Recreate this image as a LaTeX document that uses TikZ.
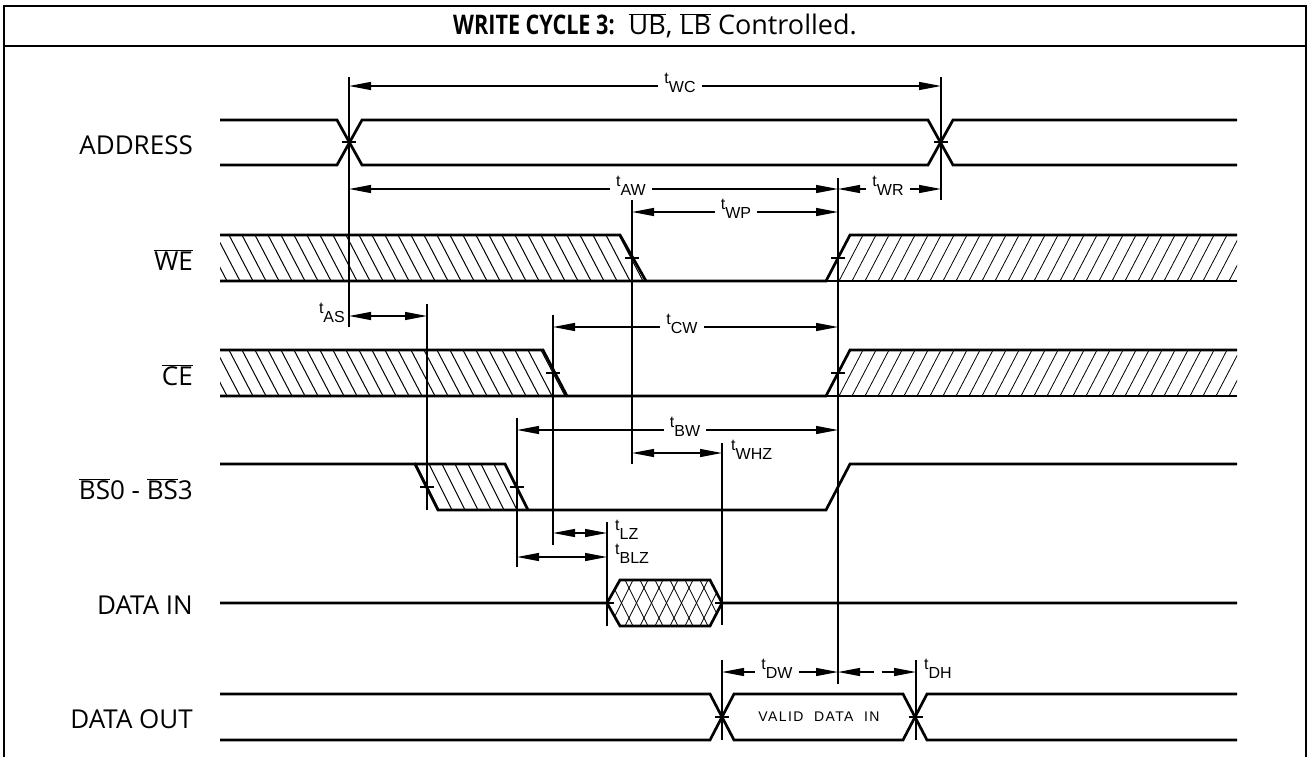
\documentclass[tikz,border=0pt]{standalone}
\usepackage{fontspec}
\setmainfont{Open Sans}
\newfontfamily\tfont{Liberation Sans}
\usetikzlibrary{arrows.meta}
\newcommand{\ovl}[1]{$\overline{\mbox{#1}}$}
\newcommand{\tlab}[1]{{\tfont\fontsize{16}{16}\selectfont t\raisebox{-9pt}{#1}}}
\tikzset{
  sig/.style={line width=2.7pt},
  refl/.style={line width=1.8pt},
  thinref/.style={line width=1.1pt},
  tk/.style={line width=1.3pt},
  hatchl/.style={line width=1pt},
  hatchr/.style={line width=0.8pt},
  frame/.style={line width=2pt},
  dim/.style={line width=1.2pt,{Triangle[length=22pt,width=8pt]}-{Triangle[length=22pt,width=8pt]}},
  gap/.style={fill=white,inner xsep=6pt,inner ysep=1pt},
  tl/.style={inner sep=0pt},
  siglab/.style={anchor=east,inner sep=0pt,font=\fontsize{26}{26}\selectfont}
}
\begin{document}
\begin{tikzpicture}[x=1pt,y=-1pt]
\useasboundingbox (0,0) rectangle (1308,757);
% frame
\draw[frame] (4,757) -- (4,6) -- (1306,6) -- (1306,757);
\draw[frame] (4,46) -- (1306,46);
\node (title) at (655,26) {\fontsize{27}{27}\selectfont\scalebox{0.8}[1]{\bfseries WRITE CYCLE 3:}\ \ \ovl{UB}, \ovl{LB} Controlled.};

% signal labels
\node[siglab] (lA) at (193,145) {ADDRESS};
\node[siglab] (lW) at (193,260) {\ovl{WE}};
\node[siglab] (lC) at (193,375) {\ovl{CE}};
\node[siglab] (lB) at (193,489) {\ovl{BS}0 - \ovl{BS}3};
\node[siglab] (lDI) at (193,605) {DATA IN};
\node[siglab] (lDO) at (193,719) {DATA OUT};

% hatching WE
\begin{scope}
\clip (220,235)--(620,235)--(646,281)--(220,281)--cycle;
\foreach \x in {190,203,...,650} \draw[hatchl] (\x,235)--++(24,46);
\end{scope}
\begin{scope}
\clip (826,281)--(850,235)--(1237,235)--(1237,281)--cycle;
\foreach \x in {813,826,...,1250} \draw[hatchr] (\x,281)--++(24,-46);
\end{scope}
% hatching CE
\begin{scope}
\clip (220,350)--(543,350)--(567,396)--(220,396)--cycle;
\foreach \x in {190,203,...,570} \draw[hatchl] (\x,350)--++(24,46);
\end{scope}
\begin{scope}
\clip (826,396)--(850,350)--(1237,350)--(1237,396)--cycle;
\foreach \x in {813,826,...,1250} \draw[hatchr] (\x,396)--++(24,-46);
\end{scope}
% hatching BS
\begin{scope}
\clip (415,464)--(505,464)--(528,510)--(438,510)--cycle;
\foreach \x in {390,403,...,520} \draw[hatchl] (\x,464)--++(23,46);
\end{scope}
% cross hatching DATA IN
\begin{scope}
\clip (607,603)--(620,580)--(710,580)--(722,603)--(710,626)--(620,626)--cycle;
\foreach \x in {580,595,...,740} {\draw[line width=0.8pt] (\x,580)--++(23,46); \draw[line width=0.8pt] (\x,626)--++(23,-46);}
\end{scope}

% signals
\draw[sig] (220,120)--(337,120)--(362,165)--(928,165)--(953,120)--(1237,120);
\draw[sig] (220,165)--(337,165)--(362,120)--(928,120)--(953,165)--(1237,165);

\draw[sig] (220,235)--(620,235)--(646,281);
\draw[sig] (220,281)--(826,281)--(850,235)--(1237,235);
\draw[sig] (826,281)--(1237,281);

\draw[sig] (220,350)--(543,350)--(567,396);
\draw[sig] (220,396)--(826,396)--(850,350)--(1237,350);
\draw[sig] (826,396)--(1237,396);

\draw[sig] (220,464)--(415,464)--(438,510)--(826,510)--(850,464)--(1237,464);
\draw[sig] (415,464)--(505,464)--(528,510);

\draw[sig] (220,603)--(607,603)--(620,580)--(710,580)--(722,603)--(1237,603);
\draw[sig] (607,603)--(620,626)--(710,626)--(722,603);

\draw[sig] (220,694)--(710,694)--(734,740)--(903,740)--(927,694)--(1237,694);
\draw[sig] (220,740)--(710,740)--(734,694)--(903,694)--(927,740)--(1237,740);

% crossing ticks
\foreach \p/\q in {349/142,941/142,632/258,838/258,553/373,838/373,427/487,517/487,607/603,722/603,722/717,916/717}
  \draw[tk] (\p-7,\q)--(\p+7,\q);

% reference lines
\draw[thinref] (349,77)--(349,327);
\draw[refl] (941,77)--(941,200);
\draw[refl] (838,178)--(838,684);
\draw[refl] (632,200)--(632,464);
\draw[refl] (427,304)--(427,510);
\draw[refl] (553,315)--(553,545);
\draw[refl] (517,418)--(517,567);
\draw[refl] (722,443)--(722,625);
\draw[refl] (722,660)--(722,740);
\draw[thinref] (607,522)--(607,626);
\draw[refl] (916,660)--(916,740);

% dimension arrows
\draw[dim] (349,86)--(941,86);
\node[gap] (tWC) at (680,83) {\tlab{WC}};
\draw[dim] (349,189)--(838,189);
\node[gap] (tAW) at (631,186) {\tlab{AW}};
\draw[dim] (838,189)--(941,189);
\node[gap] (tWR) at (888,186) {\tlab{WR}};
\draw[dim] (632,212)--(838,212);
\node[gap] (tWP) at (736,209) {\tlab{WP}};
\draw[dim] (349,316)--(427,316);
\node[tl,anchor=east] (tAS) at (345,313) {\tlab{AS}};
\draw[dim] (553,327)--(838,327);
\node[gap] (tCW) at (682,324) {\tlab{CW}};
\draw[dim] (517,430)--(838,430);
\node[gap] (tBW) at (685,427) {\tlab{BW}};
\draw[dim] (632,453)--(722,453);
\node[tl,anchor=west] (tWHZ) at (731,450) {\tlab{WHZ}};
\draw[dim] (553,533)--(607,533);
\node[tl,anchor=west] (tLZ) at (615,530) {\tlab{LZ}};
\draw[dim] (517,557)--(607,557);
\node[tl,anchor=west] (tBLZ) at (615,554) {\tlab{BLZ}};
\draw[dim] (722,672)--(838,672);
\node[gap] (tDW) at (777,669) {\tlab{DW}};
\draw[dim,dash pattern=on 14pt off 8pt] (838,672)--(916,672);
\node[tl,anchor=west] (tDH) at (924,669) {\tlab{DH}};

\node (valid) at (819,717) {\tfont\fontsize{14}{14}\selectfont\addfontfeature{LetterSpace=10}VALID\ \ DATA\ \ IN};
\end{tikzpicture}
\end{document}
